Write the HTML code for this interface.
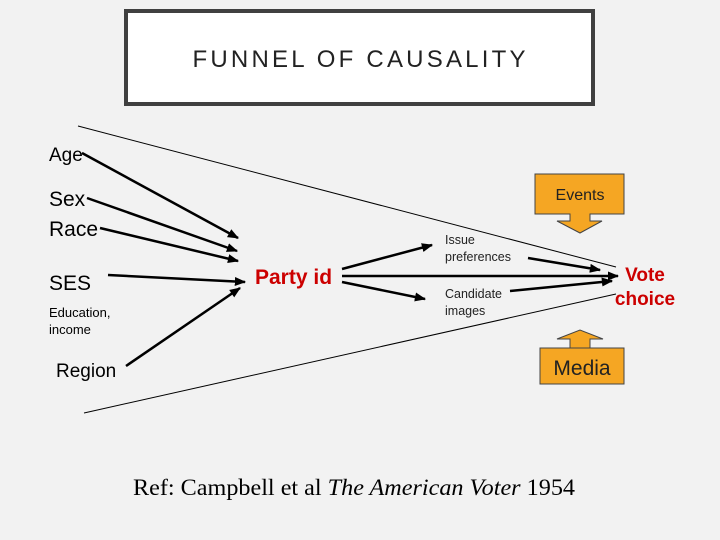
<!DOCTYPE html>
<html><head><meta charset="utf-8"><style>
html,body{margin:0;padding:0;background:#f2f2f2;}
svg{display:block;font-family:"Liberation Sans",sans-serif;}
</style></head><body>
<svg width="720" height="540" viewBox="0 0 720 540" xmlns="http://www.w3.org/2000/svg">
<defs>
<marker id="a" viewBox="0 0 10 10" refX="9" refY="5" markerWidth="4.5" markerHeight="4.5" orient="auto" markerUnits="strokeWidth">
<path d="M0,1 L10,5 L0,9 z" fill="#000"/></marker>
</defs>
<rect width="720" height="540" fill="#f2f2f2"/>
<rect x="126" y="11" width="467" height="93" fill="#fff" stroke="#404040" stroke-width="4"/>
<text x="359" y="67" font-size="24" text-anchor="middle" fill="#222" textLength="333" lengthAdjust="spacing">FUNNEL OF CAUSALITY</text>

<line x1="78" y1="126" x2="616" y2="267" stroke="#000" stroke-width="1"/>
<line x1="84" y1="413" x2="616" y2="294" stroke="#000" stroke-width="1"/>

<g stroke="#000" stroke-width="2.5" marker-end="url(#a)">
<line x1="82" y1="153" x2="238" y2="238"/>
<line x1="87" y1="198" x2="237" y2="251"/>
<line x1="100" y1="228" x2="238" y2="261"/>
<line x1="108" y1="275" x2="245" y2="282"/>
<line x1="126" y1="366" x2="240" y2="288"/>
<line x1="342" y1="269" x2="432" y2="245"/>
<line x1="342" y1="282" x2="425" y2="299"/>
<line x1="342" y1="276" x2="618" y2="276"/>
<line x1="528" y1="258" x2="600" y2="270"/>
<line x1="510" y1="291" x2="612" y2="281"/>
</g>

<text x="49" y="161" font-size="19">Age</text>
<text x="49" y="206" font-size="21">Sex</text>
<text x="49" y="236" font-size="21">Race</text>
<text x="49" y="290" font-size="21">SES</text>
<text x="49" y="317" font-size="13">Education,</text>
<text x="49" y="334" font-size="13">income</text>
<text x="56" y="377" font-size="19">Region</text>
<text x="255" y="284" font-size="21" font-weight="bold" fill="#cc0000">Party id</text>
<text x="445" y="244" font-size="12.5" fill="#222">Issue</text>
<text x="445" y="261" font-size="12.5" fill="#222">preferences</text>
<text x="445" y="298" font-size="12.5" fill="#222">Candidate</text>
<text x="445" y="315" font-size="12.5" fill="#222">images</text>
<text x="645" y="281" font-size="19" font-weight="bold" fill="#cc0000" text-anchor="middle">Vote</text>
<text x="645" y="305" font-size="19" font-weight="bold" fill="#cc0000" text-anchor="middle">choice</text>

<path d="M535,174 H624 V214 H590 V221 H602 L580,233 L557,221 H570 V214 H535 Z" fill="#f5a623" stroke="#444" stroke-width="1"/>
<text x="580" y="200" font-size="16" text-anchor="middle" fill="#222">Events</text>
<path d="M540,348 H624 V384 H540 Z M570,348 V339 H557 L580,330 L603,339 H590 V348" fill="#f5a623" stroke="#444" stroke-width="1"/>
<text x="582" y="375" font-size="21" text-anchor="middle" fill="#222">Media</text>

<text x="133" y="495" font-size="23" font-family="'Liberation Serif',serif" fill="#000" textLength="442" lengthAdjust="spacingAndGlyphs">Ref: Campbell et al <tspan font-style="italic">The American Voter</tspan> 1954</text>
</svg>
</body></html>
